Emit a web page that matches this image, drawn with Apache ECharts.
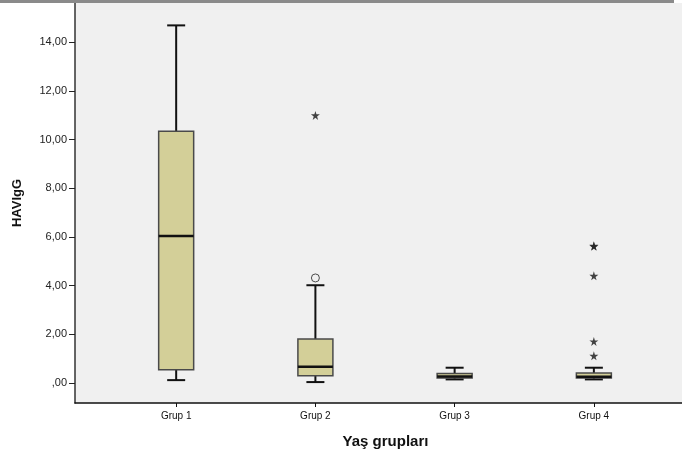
<!DOCTYPE html>
<html>
<head>
<meta charset="utf-8">
<script src="https://cdn.jsdelivr.net/npm/echarts@6/dist/echarts.min.js"></script>
<style>
  html, body { margin: 0; padding: 0; background: #ffffff; }
  #chart { width: 682px; height: 455px; }
</style>
</head>
<body>
<div id="chart"></div>
<script>
// Age groups and HAV IgG box-plot summary values
const categories = ['Grup 1', 'Grup 2', 'Grup 3', 'Grup 4'];
const lowerWhisker = [0.12, 0.04, 0.15, 0.15];
const q1 = [0.55, 0.30, 0.21, 0.21];
const median = [6.04, 0.67, 0.27, 0.26];
const q3 = [10.35, 1.81, 0.39, 0.41];
const upperWhisker = [14.70, 4.02, 0.63, 0.63];
// mild outliers (circle) and extreme values (star): [group number, value]
const outliers = [[2, 4.32]];
const extremes = [[2, 11.00], [4, 5.64], [4, 5.62], [4, 4.41], [4, 1.71], [4, 1.12]];
const yTicks = [0, 2, 4, 6, 8, 10, 12, 14];

const boxData = categories.map((c, i) => [i + 1, lowerWhisker[i], q1[i], median[i], q3[i], upperWhisker[i]]);
const starPath = 'path://M50,0 L61,35 L98,35 L68,57 L79,91 L50,70 L21,91 L32,57 L2,35 L39,35 Z';

function fmt(v) {
  if (v === 0) return ',00';
  return v.toFixed(2).replace('.', ',');
}

function renderBox(params, api) {
  const x = api.value(0);
  const pLow = api.coord([x, api.value(1)]);
  const pQ1 = api.coord([x, api.value(2)]);
  const pMed = api.coord([x, api.value(3)]);
  const pQ3 = api.coord([x, api.value(4)]);
  const pHigh = api.coord([x, api.value(5)]);
  const cx = pQ1[0];
  const bw = 35, cw = 18;
  const line = (x1, y1, x2, y2, w) => ({
    type: 'line',
    shape: { x1, y1, x2, y2 },
    style: { stroke: '#111', lineWidth: w }
  });
  return {
    type: 'group',
    children: [
      line(cx, pHigh[1], cx, pQ3[1], 2),
      line(cx - cw / 2, pHigh[1], cx + cw / 2, pHigh[1], 2),
      line(cx, pLow[1], cx, pQ1[1], 2),
      line(cx - cw / 2, pLow[1], cx + cw / 2, pLow[1], 2),
      {
        type: 'rect',
        shape: { x: cx - bw / 2, y: pQ3[1], width: bw, height: pQ1[1] - pQ3[1] },
        style: { fill: '#d3cf98', stroke: '#4a4a4a', lineWidth: 1.5 }
      },
      line(cx - bw / 2, pMed[1], cx + bw / 2, pMed[1], 2.5)
    ]
  };
}

const chart = echarts.init(document.getElementById('chart'), null, { renderer: 'canvas' });
chart.setOption({
  animation: false,
  backgroundColor: '#ffffff',
  textStyle: { fontFamily: 'Liberation Sans, Arial, sans-serif' },
  grid: { left: 75, right: 0, top: 3, bottom: 52, show: true, backgroundColor: '#f0f0f0', borderWidth: 0 },
  graphic: [
    { type: 'rect', left: 0, top: 0, shape: { width: 674, height: 3 }, style: { fill: '#8a8a8a' }, z: 10 }
  ],
  xAxis: {
    type: 'value',
    min: 0.2734,
    max: 4.633,
    splitLine: { show: false },
    axisLine: { show: true, onZero: false, lineStyle: { color: '#111', width: 1.5 } },
    axisTick: { show: true, length: 4, lineStyle: { color: '#111' }, customValues: [1, 2, 3, 4] },
    axisLabel: {
      customValues: [1, 2, 3, 4],
      formatter: v => categories[Math.round(v) - 1] || '',
      color: '#111', fontSize: 10, margin: 8
    },
    name: 'Yaş grupları',
    nameLocation: 'middle',
    nameGap: 31,
    nameTextStyle: { fontSize: 15, fontWeight: 'bold', color: '#111', padding: [0, 0, 0, 14] }
  },
  yAxis: {
    type: 'value',
    min: -0.82,
    max: 15.62,
    splitLine: { show: false },
    axisLine: { show: true, onZero: false, lineStyle: { color: '#333', width: 1.5 } },
    axisTick: { show: true, length: 6, lineStyle: { color: '#222' }, customValues: yTicks },
    axisLabel: { customValues: yTicks, formatter: fmt, color: '#222', fontSize: 11, margin: 8 },
    name: 'HAVIgG',
    nameLocation: 'middle',
    nameGap: 51,
    nameTextStyle: { fontSize: 13, fontWeight: 'bold', color: '#111' }
  },
  series: [
    {
      type: 'custom',
      renderItem: renderBox,
      data: boxData,
      encode: { x: 0, y: [1, 2, 3, 4, 5] }
    },
    {
      type: 'scatter',
      data: outliers,
      symbol: 'circle',
      symbolSize: 8,
      itemStyle: { color: '#f0f0f0', borderColor: '#222', borderWidth: 1 }
    },
    {
      type: 'scatter',
      data: extremes,
      symbol: starPath,
      symbolSize: 9,
      itemStyle: { color: '#222', opacity: 0.85 }
    }
  ]
});
</script>
</body>
</html>
